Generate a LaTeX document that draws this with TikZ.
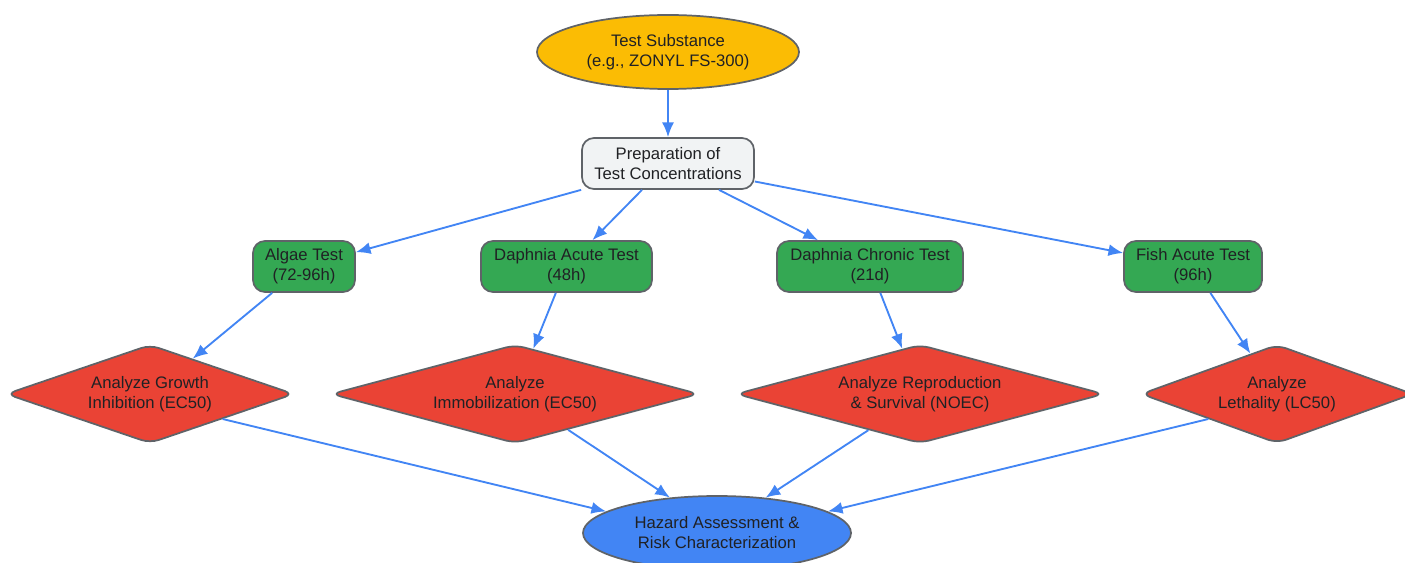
\documentclass[tikz,border=0pt]{standalone}
\usepackage{fontspec}
\setmainfont{Liberation Sans}
\usetikzlibrary{shapes.geometric,arrows.meta}
\definecolor{cyellow}{HTML}{FBBC04}
\definecolor{cgray}{HTML}{F1F3F4}
\definecolor{cgreen}{HTML}{34A853}
\definecolor{cred}{HTML}{EA4335}
\definecolor{cblue}{HTML}{4285F4}
\definecolor{cborder}{HTML}{5F6368}
\definecolor{ctext}{HTML}{202124}
\tikzset{
  base/.style={draw=cborder, line width=1.3pt, text=ctext, align=center, inner sep=0pt,
    font=\fontsize{12.5pt}{15pt}\selectfont},
  ell/.style={base, ellipse},
  boxnode/.style={base, rectangle, rounded corners=9pt, minimum height=38.25pt},
  dia/.style={base, diamond, rounded corners=7pt, minimum height=74pt, fill=cred},
  conn/.style={draw=cblue, line width=1.4pt, -{Latex[length=11pt,width=9pt]}},
}
\begin{document}
\begin{tikzpicture}[x=0.75pt,y=-0.75pt]
\useasboundingbox (0,0) rectangle (1405,563);
\node[ell, fill=cyellow, minimum width=196.5pt, minimum height=55.5pt] (sub) at (668,52) {Test Substance\\(e.g., ZONYL FS-300)};
\node[boxnode, fill=cgray, minimum width=129pt] (prep) at (668,163.5) {Preparation of\\Test Concentrations};
\node[boxnode, fill=cgreen, minimum width=76.5pt] (algae) at (304,266.5) {Algae Test\\(72-96h)};
\node[boxnode, fill=cgreen, minimum width=128.25pt] (acute) at (566.5,266.5) {Daphnia Acute Test\\(48h)};
\node[boxnode, fill=cgreen, minimum width=139.5pt] (chronic) at (870,266.5) {Daphnia Chronic Test\\(21d)};
\node[boxnode, fill=cgreen, minimum width=103.5pt] (fish) at (1193,266.5) {Fish Acute Test\\(96h)};
\node[dia, aspect=2.92, minimum width=216pt] (growth) at (150,394) {Analyze Growth\\Inhibition (EC50)};
\node[dia, aspect=3.75, minimum width=276pt] (immob) at (515,394) {Analyze\\Immobilization (EC50)};
\node[dia, aspect=3.75, minimum width=276pt] (repro) at (920,394) {Analyze Reproduction\\\& Survival (NOEC)};
\node[dia, aspect=2.75, minimum width=204pt] (leth) at (1277,394) {Analyze\\Lethality (LC50)};
\node[ell, fill=cblue, minimum width=201pt, minimum height=55.5pt] (haz) at (717,533) {Hazard Assessment \&\\Risk Characterization};
\draw[conn] (sub) -- (prep);
\draw[conn] (prep.south west) -- (algae);
\draw[conn] ([xshift=-19.5pt]prep.south) -- (acute);
\draw[conn] ([xshift=38.25pt]prep.south) -- (chronic);
\draw[conn] ([yshift=-13.5pt]prep.east) -- (fish);
\draw[conn] (algae) -- (growth);
\draw[conn] (acute) -- (immob);
\draw[conn] (chronic) -- (repro);
\draw[conn] (fish) -- (leth);
\draw[conn] (growth.-19) -- (haz.169.5);
\draw[conn] (immob.-34.6) -- (haz.143.3);
\draw[conn] (repro.215.1) -- (haz.36);
\draw[conn] (leth.200) -- (haz.11);
\end{tikzpicture}
\end{document}
